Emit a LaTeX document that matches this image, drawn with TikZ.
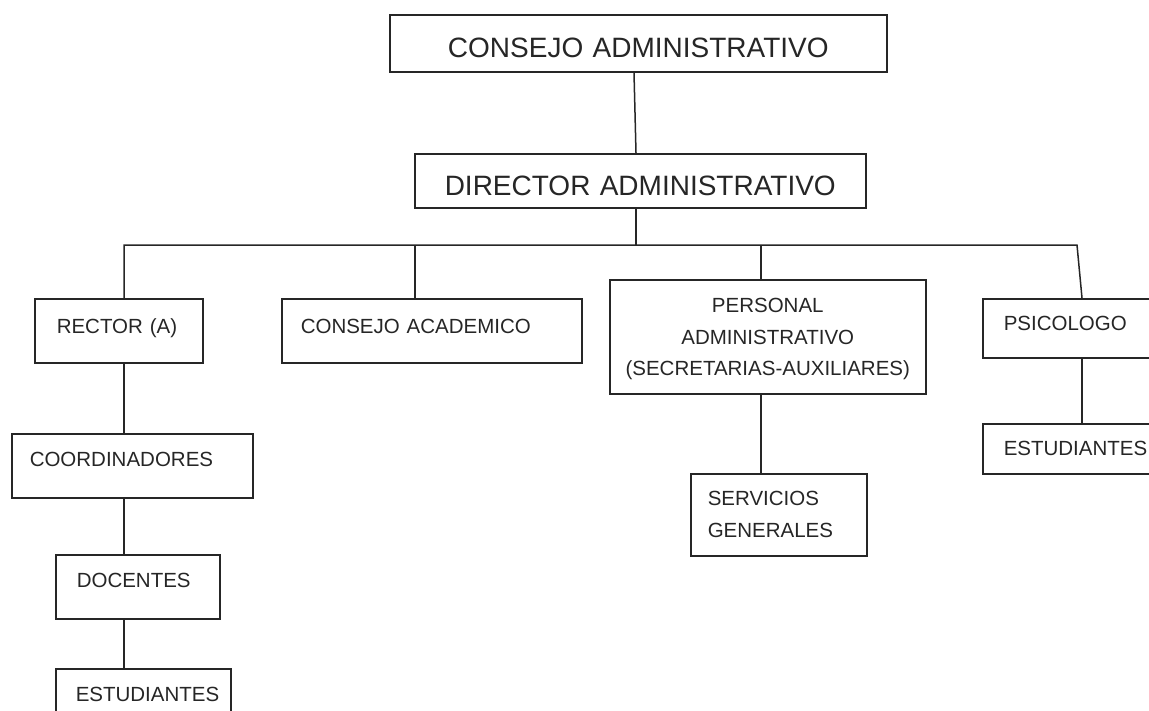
\documentclass[tikz,border=0pt]{standalone}
\usepackage{fontspec}
\setmainfont{Liberation Sans}
\tikzset{
  basic/.style={draw=black!85,line width=1.5pt,text=black!85,
                anchor=north west,inner ysep=0pt},
  title/.style={basic,align=center,inner xsep=0pt,
                font=\fontsize{28}{32}\selectfont},
  unit/.style={basic,align=left,font=\fontsize{20.5}{31.5}\selectfont},
  unit center/.style={unit,align=center,inner xsep=0pt},
  connect/.style={line width=1.5pt,black!85}
}
\begin{document}
\begin{tikzpicture}[x=1pt,y=-1pt]
  \useasboundingbox (0,0) rectangle (1149,710);
  % Draw top nodes
  \node[title,text width=497pt,text height=43pt,text depth=14pt] (consejo) at (389,14) {CONSEJO ADMINISTRATIVO};
  \node[title,text width=451pt,text height=42pt,text depth=12pt] (director) at (414,153) {DIRECTOR ADMINISTRATIVO};
  % Draw second row
  \node[unit,inner xsep=22pt,text width=124pt,text height=35pt,text depth=29pt] (rector) at (34,298) {RECTOR (A)};
  \node[unit,inner xsep=19pt,text width=262pt,text height=35pt,text depth=29pt] (academico) at (281,298) {CONSEJO ACADEMICO};
  \node[unit center,text width=316pt,text height=33pt,text depth=81pt] (personal) at (609,279) {PERSONAL\\ADMINISTRATIVO\\(SECRETARIAS-AUXILIARES)};
  \node[unit,inner xsep=21pt,text width=146pt,text height=32pt,text depth=27pt] (psicologo) at (982,298) {PSICOLOGO};
  % Draw lower nodes
  \node[unit,inner xsep=18pt,text width=205pt,text height=33pt,text depth=31pt] (coordinadores) at (11,433) {COORDINADORES};
  \node[unit,inner xsep=21pt,text width=122pt,text height=33pt,text depth=31pt] (docentes) at (55,554) {DOCENTES};
  \node[unit,inner xsep=20pt,text width=135pt,text height=33pt,text depth=25pt] (estudiantesA) at (55,668) {ESTUDIANTES};
  \node[unit,inner xsep=17pt,text width=142pt,text height=32pt,text depth=50pt] (servicios) at (690,473) {SERVICIOS\\GENERALES};
  \node[unit,inner xsep=21pt,text width=146pt,text height=32pt,text depth=18pt] (estudiantesB) at (982,423) {ESTUDIANTES};
  % Points on the branch line
  \coordinate (top) at (634,0);
  \coordinate (b1) at (124,245);
  \coordinate (b2) at (415,245);
  \coordinate (b3) at (761,245);
  \coordinate (b4) at (1077,245);
  \coordinate (b5) at (1082,245);
  % Draw edges
  \draw[connect] (consejo.south -| top) -- ([xshift=2pt]director.north -| top);
  \draw[connect] ([xshift=2pt]director.south -| top) -- ([xshift=2pt]top |- b1);
  \draw[connect] (rector.north -| b1) -- (b1) -- (b4) -- (b5 |- psicologo.north);
  \draw[connect] (b2) -- (academico.north -| b2);
  \draw[connect] (b3) -- (personal.north -| b3);
  \draw[connect] (rector.south -| b1) -- (coordinadores.north -| b1);
  \draw[connect] (coordinadores.south -| b1) -- (docentes.north -| b1);
  \draw[connect] (docentes.south -| b1) -- (estudiantesA.north -| b1);
  \draw[connect] (personal.south -| b3) -- (servicios.north -| b3);
  \draw[connect] (b5 |- psicologo.south) -- (b5 |- estudiantesB.north);
\end{tikzpicture}
\end{document}
